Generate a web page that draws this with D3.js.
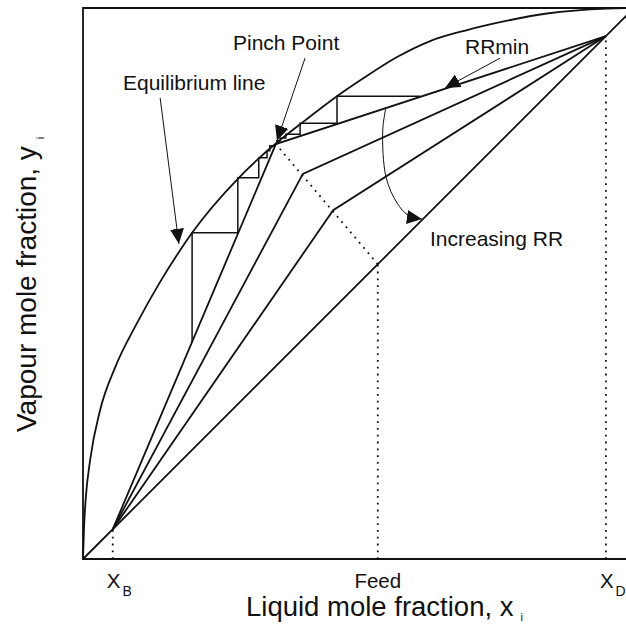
<!DOCTYPE html>
<html>
<head>
<meta charset="utf-8">
<script src="https://cdn.jsdelivr.net/npm/d3@7"></script>
<style>
	html, body {margin: 0; padding: 0; background: #fff;}
	svg text {font-family: "Liberation Sans", Arial, Helvetica, sans-serif; fill: #111;}
</style>
</head>
<body>
<div id="chart"></div>
<script>
// mole fractions (x = liquid, y = vapour)
var xB = 0.054, xF = 0.535, xD = 0.949;

var equilibrium = [
	[0, 0], [0.002, 0.060], [0.005, 0.110], [0.013, 0.180], [0.031, 0.270],
	[0.058, 0.347], [0.098, 0.428], [0.140, 0.503], [0.176, 0.560], [0.198, 0.592],
	[0.281, 0.690], [0.319, 0.727], [0.350, 0.754], [0.394, 0.789], [0.461, 0.840],
	[0.508, 0.872], [0.570, 0.911], [0.630, 0.940], [0.697, 0.960], [0.770, 0.977],
	[0.842, 0.990], [0.951, 0.999], [1, 1]
];

// corner of each operating line where it meets the feed line
var corners = [[0.350, 0.753], [0.399, 0.699], [0.454, 0.633]];

// McCabe-Thiele steps at minimum reflux
var stairs = [
	[0.612, 0.840], [0.461, 0.840], [0.461, 0.791], [0.394, 0.791], [0.394, 0.771],
	[0.368, 0.771], [0.368, 0.764], [0.358, 0.764], [0.358, 0.759], [0.352, 0.759],
	[0.352, 0.755], [0.350, 0.753], [0.347, 0.750], [0.339, 0.750], [0.339, 0.741],
	[0.334, 0.741], [0.334, 0.728], [0.319, 0.728], [0.319, 0.692], [0.281, 0.692],
	[0.281, 0.592], [0.198, 0.592], [0.198, 0.394]
];

var tickNames = [{x: xB, main: 'X', sub: 'B'}, {x: xF, main: 'Feed', sub: ''}, {x: xD, main: 'X', sub: 'D'}];

var pinchArrow = [[0.403, 0.909], [0.352, 0.759]];
var rrminArrow = [[0.757, 0.909], [0.657, 0.855]];
var equilArrow = [[0.140, 0.837], [0.174, 0.572]];
var increasingArrow = [[0.550, 0.820], [0.544, 0.779], [0.550, 0.693], [0.570, 0.646], [0.590, 0.624], [0.615, 0.617]];

(function(){
	var width = 626, height = 624;
	var x = d3.scaleLinear().domain([0, 1]).range([83, 634]);
	var y = d3.scaleLinear().domain([0, 1]).range([559, 8]);

	var svg = d3.select('#chart')
		.append('svg')
			.attr('width', width)
			.attr('height', height);

	svg.append('defs').append('marker')
			.attr('id', 'head')
			.attr('markerUnits', 'userSpaceOnUse')
			.attr('viewBox', '0 -8 16 16')
			.attr('markerWidth', 16)
			.attr('markerHeight', 16)
			.attr('refX', 15)
			.attr('refY', 0)
			.attr('orient', 'auto')
		.append('path')
			.attr('d', 'M0,-7L15,0L0,7Z')
			.style('fill', '#111');

	var line = d3.line().x(function(d) {return x(d[0]);}).y(function(d) {return y(d[1]);});

	// frame (right side runs off the picture)
	svg.append('path')
		.attr('d', 'M' + width + ',' + y(1) + 'H' + x(0) + 'V' + y(0) + 'H' + width)
		.style('fill', 'none').style('stroke', '#111').style('stroke-width', 1.8);

	// diagonal y = x
	svg.append('path')
		.attr('d', line([[0, 0], [1, 1]]))
		.style('fill', 'none').style('stroke', '#111').style('stroke-width', 1.8);

	svg.append('path')
		.attr('d', line.curve(d3.curveMonotoneX)(equilibrium))
		.style('fill', 'none').style('stroke', '#111').style('stroke-width', 1.8);
	line.curve(d3.curveLinear);

	svg.append('g').selectAll('path')
		.data(corners)
		.enter().append('path')
			.attr('d', function(d) {return line([[xB, xB], d, [xD, xD]]);})
			.style('fill', 'none').style('stroke', '#111').style('stroke-width', 1.8);

	svg.append('path')
		.attr('d', line(stairs))
		.style('fill', 'none').style('stroke', '#111').style('stroke-width', 1.5);

	// dotted feed line and drop lines
	var dots = [
		[[xF, xF], corners[0]],
		[[xB, 0], [xB, xB]],
		[[xF, 0], [xF, xF]],
		[[xD, 0], [xD, xD]]
	];
	svg.append('g').selectAll('path')
		.data(dots)
		.enter().append('path')
			.attr('d', line)
			.style('fill', 'none').style('stroke', '#111').style('stroke-width', 1.8)
			.style('stroke-dasharray', '1.8,5');

	svg.append('g').selectAll('path')
		.data([pinchArrow, rrminArrow, equilArrow])
		.enter().append('path')
			.attr('d', line)
			.attr('marker-end', 'url(#head)')
			.style('fill', 'none').style('stroke', '#111').style('stroke-width', 1);

	svg.append('path')
		.attr('d', line.curve(d3.curveCatmullRom.alpha(0.5))(increasingArrow))
		.attr('marker-end', 'url(#head)')
		.style('fill', 'none').style('stroke', '#111').style('stroke-width', 1);

	var notes = [
		{t: 'Equilibrium line', x: 123, y: 90},
		{t: 'Pinch Point', x: 233, y: 50},
		{t: 'RRmin', x: 465, y: 54},
		{t: 'Increasing RR', x: 430, y: 246}
	];
	svg.append('g').selectAll('text')
		.data(notes)
		.enter().append('text')
			.attr('x', function(d) {return d.x;})
			.attr('y', function(d) {return d.y;})
			.style('font-size', '21px')
			.text(function(d) {return d.t;});

	var ticks = svg.append('g').selectAll('text')
		.data(tickNames)
		.enter().append('text')
			.attr('x', function(d) {return d.sub ? x(d.x) - 6 : x(d.x);})
			.attr('y', 588)
			.attr('text-anchor', function(d) {return d.sub ? 'start' : 'middle';})
			.style('font-size', '20.5px');
	ticks.append('tspan').text(function(d) {return d.main;});
	ticks.append('tspan')
		.attr('dx', 2).attr('dy', 8)
		.style('font-size', '14px')
		.text(function(d) {return d.sub;});

	var xl = svg.append('text')
		.attr('x', 246).attr('y', 616)
		.style('font-size', '27.5px');
	xl.append('tspan').text('Liquid mole fraction, x');
	xl.append('tspan').attr('dx', 7).attr('dy', 5).style('font-size', '11px').text('i');

	var yl = svg.append('text')
		.attr('transform', 'translate(36,432) rotate(-90)')
		.style('font-size', '28px');
	yl.append('tspan').text('Vapour mole fraction, y');
	yl.append('tspan').attr('dx', 7).attr('dy', 8).style('font-size', '11px').text('i');
})();
</script>
</body>
</html>
